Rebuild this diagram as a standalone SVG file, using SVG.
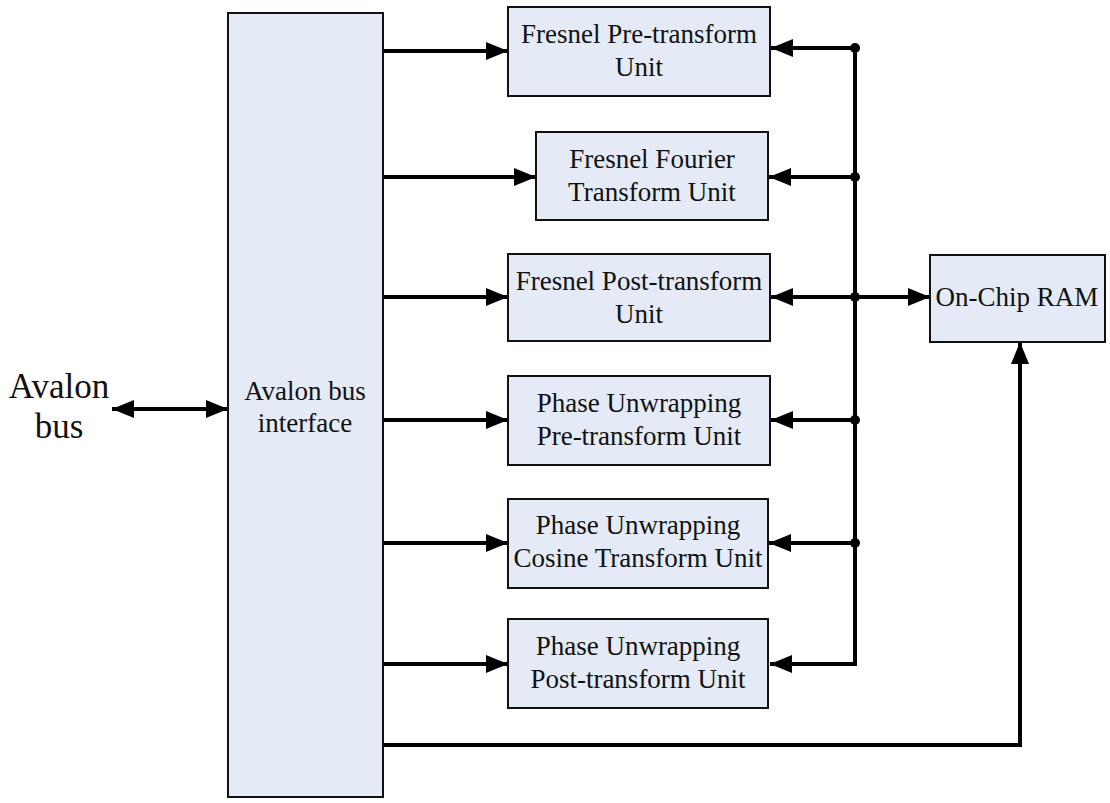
<svg xmlns="http://www.w3.org/2000/svg" width="1110" height="803" viewBox="0 0 1110 803">
  <style>
    .box { fill: #e4ebf6; stroke: #111; stroke-width: 2; }
    .lbl { font-family: "Liberation Serif", "Times New Roman", serif; font-size: 27px; fill: #111; text-anchor: middle; }
    .big { font-family: "Liberation Serif", "Times New Roman", serif; font-size: 35px; fill: #111; text-anchor: middle; }
    .wire { fill: none; stroke: #000; stroke-width: 4; }
  </style>
  <defs>
    <marker id="ah" viewBox="0 0 22 18" refX="22" refY="9" markerWidth="5.5" markerHeight="4.5" orient="auto-start-reverse" markerUnits="strokeWidth">
      <path d="M0,0 L22,9 L0,18 Z" fill="#000"/>
    </marker>
  </defs>
  <rect width="1110" height="803" fill="#fff"/>

  <!-- connectors -->
  <g id="connectors">
    <!-- external bus -->
    <line class="wire" x1="112" y1="409" x2="228" y2="409" marker-start="url(#ah)" marker-end="url(#ah)"/>
    <!-- interface to units -->
    <line class="wire" x1="383" y1="51" x2="508" y2="51" marker-end="url(#ah)"/>
    <line class="wire" x1="383" y1="177" x2="536" y2="177" marker-end="url(#ah)"/>
    <line class="wire" x1="383" y1="297" x2="508" y2="297" marker-end="url(#ah)"/>
    <line class="wire" x1="383" y1="420" x2="508" y2="420" marker-end="url(#ah)"/>
    <line class="wire" x1="383" y1="543" x2="508" y2="543" marker-end="url(#ah)"/>
    <line class="wire" x1="383" y1="664" x2="508" y2="664" marker-end="url(#ah)"/>
    <!-- shared memory bus -->
    <polyline class="wire" points="855,48 855,664 770,664" marker-end="url(#ah)"/>
    <line class="wire" x1="855" y1="48" x2="771" y2="48" marker-end="url(#ah)"/>
    <line class="wire" x1="855" y1="177" x2="769" y2="177" marker-end="url(#ah)"/>
    <line class="wire" x1="855" y1="297" x2="771" y2="297" marker-end="url(#ah)"/>
    <line class="wire" x1="855" y1="420" x2="771" y2="420" marker-end="url(#ah)"/>
    <line class="wire" x1="855" y1="543" x2="769" y2="543" marker-end="url(#ah)"/>
    <line class="wire" x1="855" y1="297" x2="930" y2="297" marker-end="url(#ah)"/>
    <!-- interface to RAM -->
    <polyline class="wire" points="383,745 1020,745 1020,342" marker-end="url(#ah)"/>
    <g fill="#000">
      <circle cx="855" cy="48" r="5"/>
      <circle cx="855" cy="177" r="5"/>
      <circle cx="855" cy="297" r="5"/>
      <circle cx="855" cy="420" r="5"/>
      <circle cx="855" cy="543" r="5"/>
    </g>
  </g>

  <g id="avalon-bus">
    <text class="big" x="59" y="398">Avalon</text>
    <text class="big" x="59" y="438">bus</text>
  </g>

  <g id="bus-interface">
    <rect class="box" x="228" y="13" width="155" height="784"/>
    <text class="lbl" x="305" y="400">Avalon bus</text>
    <text class="lbl" x="305" y="432">interface</text>
  </g>

  <g id="fresnel-pre">
    <rect class="box" x="508" y="7" width="262" height="89"/>
    <text class="lbl" x="639" y="43">Fresnel Pre-transform</text>
    <text class="lbl" x="639" y="76">Unit</text>
  </g>

  <g id="fresnel-fourier">
    <rect class="box" x="536" y="132" width="232" height="88"/>
    <text class="lbl" x="652" y="168">Fresnel Fourier</text>
    <text class="lbl" x="652" y="201">Transform Unit</text>
  </g>

  <g id="fresnel-post">
    <rect class="box" x="508" y="254" width="262" height="87"/>
    <text class="lbl" x="639" y="290">Fresnel Post-transform</text>
    <text class="lbl" x="639" y="323">Unit</text>
  </g>

  <g id="pu-pre">
    <rect class="box" x="508" y="376" width="262" height="89"/>
    <text class="lbl" x="639" y="412">Phase Unwrapping</text>
    <text class="lbl" x="639" y="445">Pre-transform Unit</text>
  </g>

  <g id="pu-cosine">
    <rect class="box" x="508" y="499" width="260" height="89"/>
    <text class="lbl" x="638" y="534">Phase Unwrapping</text>
    <text class="lbl" x="638" y="567">Cosine Transform Unit</text>
  </g>

  <g id="pu-post">
    <rect class="box" x="508" y="619" width="260" height="89"/>
    <text class="lbl" x="638" y="655">Phase Unwrapping</text>
    <text class="lbl" x="638" y="688">Post-transform Unit</text>
  </g>

  <g id="on-chip-ram">
    <rect class="box" x="930" y="255" width="175" height="87"/>
    <text class="lbl" x="1017" y="306">On-Chip RAM</text>
  </g>
</svg>
